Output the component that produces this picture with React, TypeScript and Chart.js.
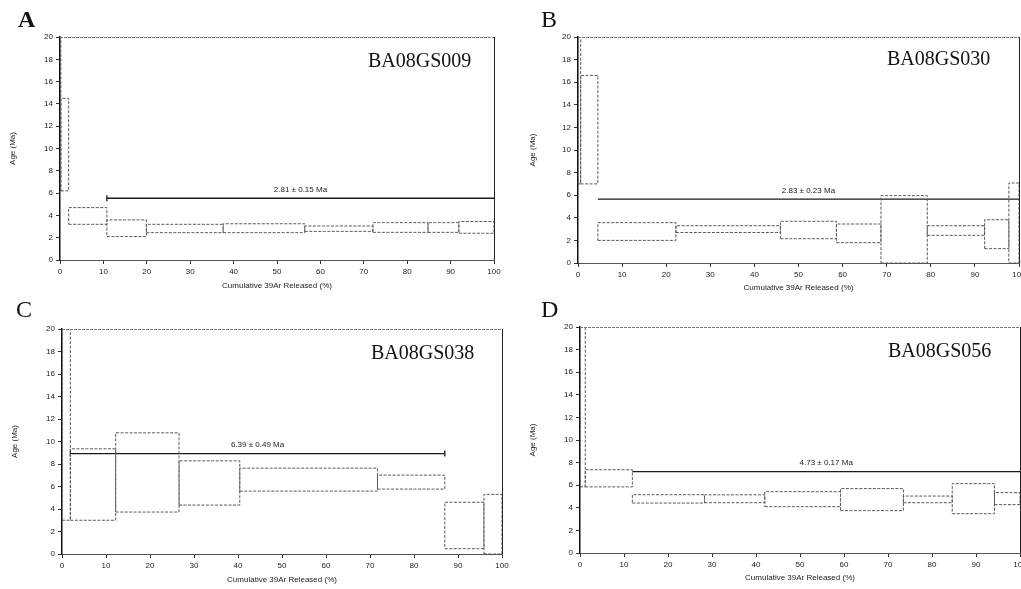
import React, { useEffect, useRef } from "react";
import { Chart, registerables } from "chart.js";

Chart.register(...registerables);
Chart.defaults.font.family = '"Liberation Sans", Arial, sans-serif';
Chart.defaults.color = "#222";

// ---------------- Panel A : BA08GS009 ----------------
const cumA = [0, 0.2, 2.0, 10.8, 19.9, 37.6, 56.4, 72.1, 84.8, 91.9, 100];
const lowA = [6.2, 6.2, 3.2, 2.1, 2.45, 2.45, 2.57, 2.48, 2.48, 2.4];
const highA = [30, 14.5, 4.7, 3.6, 3.2, 3.25, 3.05, 3.35, 3.35, 3.45];
const plateauA = [10.8, 100, 5.54];
const plateauTextA = "2.81 ± 0.15 Ma";
const sampleA = "BA08GS009";

// ---------------- Panel B : BA08GS030 ----------------
const cumB = [0, 0.6, 4.5, 22.2, 45.9, 58.6, 68.7, 79.2, 92.2, 97.7, 100];
const lowB = [7.0, 7.0, 2.0, 2.7, 2.15, 1.8, 0, 2.45, 1.27, 0];
const highB = [30, 16.6, 3.57, 3.3, 3.69, 3.45, 5.96, 3.3, 3.83, 7.08];
const plateauB = [4.5, 100, 5.66];
const plateauTextB = "2.83 ± 0.23 Ma";
const sampleB = "BA08GS030";

// ---------------- Panel C : BA08GS038 ----------------
const cumC = [0, 1.9, 12.2, 26.6, 40.4, 71.7, 87.0, 95.9, 100];
const lowC = [3.0, 3.0, 3.73, 4.35, 5.59, 5.77, 0.47, 0];
const highC = [30, 9.35, 10.77, 8.28, 7.63, 7.01, 4.6, 5.3];
const plateauC = [1.9, 87.0, 8.93];
const plateauTextC = "6.39 ± 0.49 Ma";
const sampleC = "BA08GS038";

// ---------------- Panel D : BA08GS056 ----------------
const cumD = [0, 1.2, 11.9, 28.3, 42.0, 59.2, 73.5, 84.6, 94.2, 100];
const lowD = [5.85, 5.85, 4.42, 4.45, 4.1, 3.75, 4.45, 3.48, 4.28];
const highD = [30, 7.37, 5.16, 5.15, 5.43, 5.7, 5.04, 6.14, 5.34];
const plateauD = [11.9, 100, 7.2];
const plateauTextD = "4.73 ± 0.17 Ma";
const sampleD = "BA08GS056";

// Axis ticks / titles
const xTitle = "Cumulative 39Ar Released (%)";
const yTitle = "Age (Ma)";
const xMin = 0, xMax = 100, xStep = 10;
const yMin = 0, yMax = 20, yStep = 2;

type Geo = { left: number; top: number; w: number; h: number; yw: number; pt: number; pr: number; xh: number; yTitlePad: number; xTitlePad: number; endTicks: number[] };

function boxPath(cum: number[], low: number[], high: number[]) {
  const pts: any[] = [];
  for (let i = 0; i < low.length; i++) {
    const x0 = cum[i], x1 = cum[i + 1];
    pts.push(
      { x: x0, y: low[i] },
      { x: x1, y: low[i] },
      { x: x1, y: high[i] },
      { x: x0, y: high[i] },
      { x: x0, y: low[i] },
      { x: x1, y: null }
    );
  }
  return pts;
}

function Panel(props: { cum: number[]; low: number[]; high: number[]; plateau: number[]; text: string; geo: Geo }) {
  const ref = useRef<HTMLCanvasElement | null>(null);
  useEffect(() => {
    const { cum, low, high, plateau, text, geo } = props;
    const labelPlugin = {
      id: "plateauLabel",
      afterDatasetsDraw(chart: any) {
        const xs = chart.scales.x, ys = chart.scales.y;
        const ctx = chart.ctx;
        const cx = (xs.getPixelForValue(plateau[0]) + xs.getPixelForValue(plateau[1])) / 2;
        const cy = ys.getPixelForValue(plateau[2]) - 8.5;
        ctx.save();
        ctx.font = '8px "Liberation Sans", Arial, sans-serif';
        ctx.fillStyle = "#222";
        ctx.textAlign = "center";
        ctx.textBaseline = "middle";
        ctx.fillText(text, cx, cy);
        ctx.restore();
      },
    };
    const framePlugin = {
      id: "frame",
      afterDraw(chart: any) {
        const { left, top, right, bottom } = chart.chartArea;
        const ctx = chart.ctx;
        ctx.save();
        ctx.lineWidth = 1;
        ctx.strokeStyle = "#777";
        ctx.setLineDash([3, 1]);
        ctx.beginPath();
        ctx.moveTo(left, top + 0.5);
        ctx.lineTo(right, top + 0.5);
        ctx.stroke();
        ctx.setLineDash([]);
        ctx.strokeStyle = "#222";
        ctx.beginPath();
        ctx.moveTo(right + 0.5, top);
        ctx.lineTo(right + 0.5, bottom);
        ctx.stroke();
        ctx.restore();
      },
    };
    const chart = new Chart(ref.current as HTMLCanvasElement, {
      type: "scatter",
      data: {
        datasets: [
          {
            data: boxPath(cum, low, high),
            showLine: true,
            spanGaps: false,
            borderColor: "#5a5a5a",
            borderWidth: 1,
            borderDash: [3, 1.5],
            pointRadius: 0,
            fill: false,
          } as any,
          {
            data: [
              { x: plateau[0], y: plateau[2] },
              { x: plateau[1], y: plateau[2] },
            ],
            showLine: true,
            borderColor: "#1a1a1a",
            borderWidth: 1.3,
            pointStyle: "line",
            rotation: 90,
            pointRadius: geo.endTicks,
            pointBorderColor: "#1a1a1a",
            pointBorderWidth: 1.3,
            fill: false,
          } as any,
        ],
      },
      options: {
        animation: false,
        responsive: false,
        events: [],
        layout: { padding: { left: 0, top: geo.pt, right: geo.pr, bottom: 0 } },
        plugins: { legend: { display: false }, tooltip: { enabled: false } },
        scales: {
          x: {
            type: "linear",
            min: xMin,
            max: xMax,
            ticks: { stepSize: xStep, font: { size: 8 }, padding: 3, maxRotation: 0, autoSkip: false, color: "#222" },
            grid: { drawOnChartArea: false, drawTicks: true, tickLength: 4, color: "#333" },
            border: { color: "#555", width: 1, dash: [2, 1] },
            title: { display: true, text: xTitle, font: { size: 8 }, color: "#222", padding: { top: 0, bottom: geo.xTitlePad } },
            afterFit: (s: any) => {
              s.height = geo.xh;
              s.paddingLeft = 0;
              s.paddingRight = 0;
            },
          },
          y: {
            type: "linear",
            min: yMin,
            max: yMax,
            ticks: { stepSize: yStep, font: { size: 8 }, padding: 3, color: "#222" },
            grid: { drawOnChartArea: false, drawTicks: true, tickLength: 4, color: "#333" },
            border: { color: "#111", width: 1.5 },
            title: { display: true, text: yTitle, font: { size: 8 }, color: "#222", padding: { top: geo.yTitlePad, bottom: 0 } },
            afterFit: (s: any) => {
              s.width = geo.yw;
              s.paddingTop = 0;
              s.paddingBottom = 0;
            },
          },
        } as any,
      },
      plugins: [labelPlugin, framePlugin],
    });
    return () => chart.destroy();
  }, []);
  const g = props.geo;
  return (
    <canvas
      ref={ref}
      width={g.w}
      height={g.h}
      style={{ position: "absolute", left: g.left, top: g.top, width: g.w, height: g.h }}
    />
  );
}

const geoA: Geo = { left: 0, top: 0, w: 510, h: 295, yw: 60, pt: 37, pr: 16, xh: 35, yTitlePad: 8, xTitlePad: 4, endTicks: [3, 0] };
const geoB: Geo = { left: 510, top: 0, w: 530, h: 298, yw: 68, pt: 37, pr: 21, xh: 35, yTitlePad: 18, xTitlePad: 5, endTicks: [0, 0] };
const geoC: Geo = { left: 0, top: 290, w: 510, h: 299, yw: 62, pt: 39, pr: 8, xh: 35, yTitlePad: 10, xTitlePad: 4, endTicks: [3, 3] };
const geoD: Geo = { left: 510, top: 290, w: 530, h: 299, yw: 70, pt: 37, pr: 20, xh: 36, yTitlePad: 18, xTitlePad: 6, endTicks: [0, 0] };

const letterStyle = (left: number, top: number, bold: boolean): React.CSSProperties => ({
  position: "absolute",
  left,
  top,
  font: `${bold ? "bold " : ""}24px "Liberation Serif", "Times New Roman", serif`,
  lineHeight: "24px",
  color: "#111",
  whiteSpace: "nowrap",
});
const sampleStyle = (left: number, top: number): React.CSSProperties => ({
  position: "absolute",
  left,
  top,
  font: '20px "Liberation Serif", "Times New Roman", serif',
  lineHeight: "20px",
  color: "#111",
  whiteSpace: "nowrap",
});

export default function App() {
  return (
    <div style={{ position: "absolute", left: 0, top: 0, width: 1021, height: 589, overflow: "hidden", background: "#fff" }}>
      <Panel cum={cumA} low={lowA} high={highA} plateau={plateauA} text={plateauTextA} geo={geoA} />
      <Panel cum={cumB} low={lowB} high={highB} plateau={plateauB} text={plateauTextB} geo={geoB} />
      <Panel cum={cumC} low={lowC} high={highC} plateau={plateauC} text={plateauTextC} geo={geoC} />
      <Panel cum={cumD} low={lowD} high={highD} plateau={plateauD} text={plateauTextD} geo={geoD} />
      <div style={letterStyle(18, 7, true)}>A</div>
      <div style={letterStyle(541, 7, false)}>B</div>
      <div style={letterStyle(16, 297, false)}>C</div>
      <div style={letterStyle(541, 297, false)}>D</div>
      <div style={sampleStyle(368, 50)}>{sampleA}</div>
      <div style={sampleStyle(887, 48)}>{sampleB}</div>
      <div style={sampleStyle(371, 342)}>{sampleC}</div>
      <div style={sampleStyle(888, 340)}>{sampleD}</div>
    </div>
  );
}
